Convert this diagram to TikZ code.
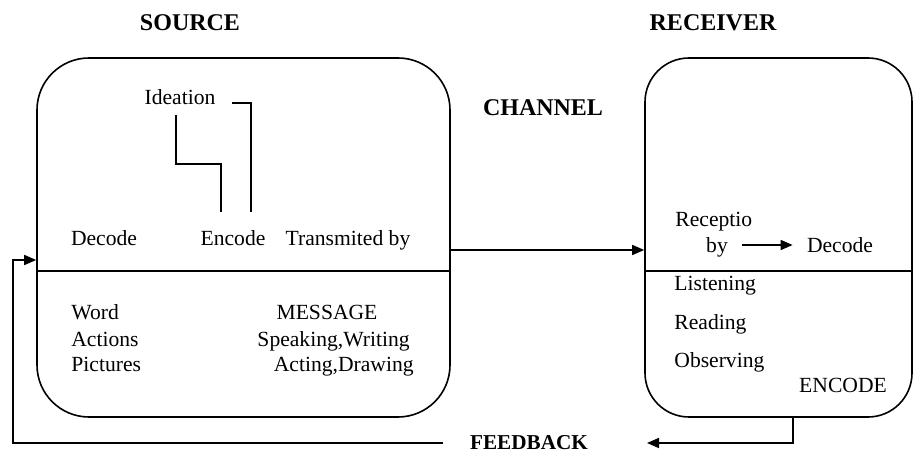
\documentclass[tikz,border=0pt]{standalone}
\usepackage{fontspec}
\setmainfont{Liberation Serif}
\usetikzlibrary{arrows.meta,positioning,calc}
\tikzset{
  panel/.style={draw, line width=0.8pt, inner sep=0pt},
  txt/.style={font=\fontsize{10.8}{13}\selectfont, inner sep=1pt, text height=7.5pt, text depth=0pt},
  head/.style={font=\fontsize{12}{14}\selectfont\bfseries, inner sep=1pt},
  link/.style={line width=0.8pt},
  arr/.style={-{Triangle[length=6pt,width=5pt]}, line width=0.8pt}
}
\begin{document}
\begin{tikzpicture}[x=0.5pt,y=-0.5pt]
  \useasboundingbox (0,0) rectangle (914,453);
  % the two panels
  \node[panel, rounded corners=26pt, minimum width=206.5pt, minimum height=179.5pt] (src) at (243.5,237.5) {};
  \node[panel, rounded corners=22pt, minimum width=133.5pt, minimum height=179.5pt] (rcv) at (778.5,237.5) {};
  \coordinate (div) at (0,271);
  \draw[link] (src.west |- div) -- (src.east |- div);
  \draw[link] (rcv.west |- div) -- (rcv.east |- div);

  \node[head] (srcT) at (190,23) {SOURCE};
  \node[head] (rcvT) at (713,23) {RECEIVER};
  \node[head] (chT) at (543,108) {CHANNEL};
  \node[head, font=\fontsize{10.6}{13}\selectfont\bfseries] (fbT) at (529,443) {FEEDBACK};

  % source side
  \node[txt] (idea) at (180,97) {Ideation};
  \node[txt] (dec) at (104,238) {Decode};
  \node[txt] (enc) at (233,238) {Encode};
  \node[txt] (trans) at (348,238) {Transmited by};
  \node[txt, anchor=west] (word) at (69,312) {Word};
  \node[txt, anchor=west] (act) at (69,339) {Actions};
  \node[txt, anchor=west] (pic) at (69,364) {Pictures};
  \node[txt] (msg) at (327,312) {MESSAGE};
  \node[txt, anchor=east] (spk) at (412,339) {Speaking,Writing};
  \node[txt, anchor=east] (acd) at (416,364) {Acting,Drawing};

  % receiver side
  \node[txt, anchor=west] (recp) at (673,219) {Receptio};
  \node[txt] (by) at (717,245) {by};
  \node[txt] (dec2) at (840,245) {Decode};
  \node[txt, anchor=west] (lis) at (672,283) {Listening};
  \node[txt, anchor=west] (rea) at (672,322) {Reading};
  \node[txt, anchor=west] (obs) at (672,360) {Observing};
  \node[txt] (enc2) at (843,385) {ENCODE};

  % ideation to encode
  \coordinate (bend) at (0,164);
  \draw[link] ([xshift=-2pt,yshift=-4pt]idea.south) -- ([xshift=-2pt]idea.south |- bend)
    -- ([xshift=-6pt]enc.north |- bend) -- ([xshift=-6pt,yshift=8pt]enc.north);
  \draw[link] ([xshift=7pt,yshift=-3pt]idea.east) -| ([xshift=9pt,yshift=8pt]enc.north);

  % channel and feedback
  \coordinate (ch) at (0,250);
  \draw[arr] (src.east |- ch) -- (rcv.west |- ch);
  \draw[arr, shorten <=6pt, shorten >=6pt] (by) -- (dec2);
  \coordinate (fbdrop) at (793,0);
  \coordinate (fbend) at (647,443);
  \draw[arr] (rcv.south -| fbdrop) |- (fbend);
  \coordinate (fbleft) at (13,260);
  \draw[arr] ([xshift=-12.5pt]fbT.west) -| (fbleft) -- (src.west |- fbleft);
\end{tikzpicture}
\end{document}
